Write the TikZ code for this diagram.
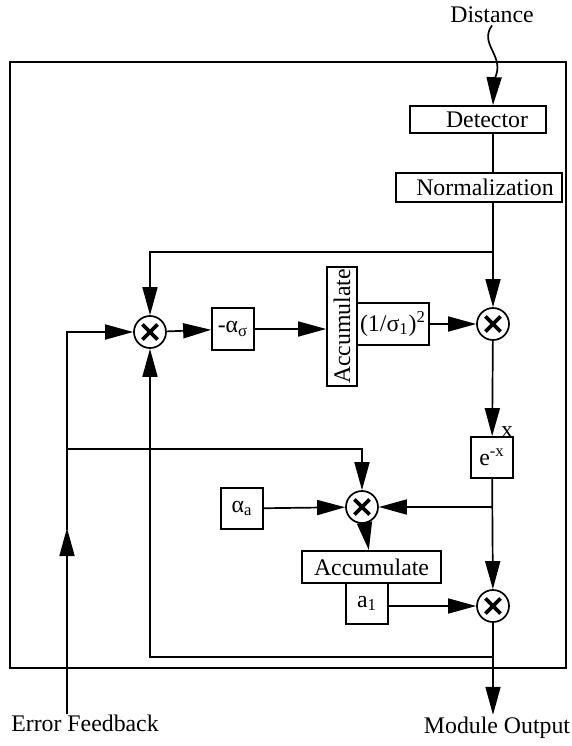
\documentclass[tikz,border=0pt]{standalone}
\usepackage{fontspec}
\setmainfont{Liberation Serif}
\usetikzlibrary{arrows.meta,positioning}

\begin{document}
\begin{tikzpicture}[x=0.5pt,y=-0.5pt,
  font=\fontsize{11.9}{13}\selectfont,
  blk/.style={draw,line width=0.85pt,inner sep=1pt,align=center},
  mult/.style={circle,draw,line width=0.85pt,minimum size=16pt,inner sep=0pt},
  flow/.style={-{Triangle[length=14pt,width=7.5pt]},line width=0.85pt},
  lbl/.style={inner sep=1pt}
]
\useasboundingbox (0,0) rectangle (572,746);
% module frame
\draw[line width=0.85pt] (10,62) rectangle (566,668);

% blocks
\node[lbl] (dist) at (492,15) {Distance};
\node[blk,minimum width=68pt,minimum height=13.5pt] (det) at (478,119.5) {\hspace{9pt}Detector};
\node[blk,line width=1.4pt,minimum width=83pt,minimum height=14.5pt] (norm) at (479,187.5) {\hspace{6pt}Normalization};
\node[mult] (m1) at (150,332) {};
\node[blk,minimum width=21pt,minimum height=21pt] (as) at (233,329) {-α\textsubscript{σ}};
\node[blk,minimum width=15pt,minimum height=59.5pt,inner sep=0pt] (accv) at (342,326.5) {\rotatebox{90}{Accumulate}};
\node[blk,minimum width=36pt,minimum height=21pt] (sig) at (393,324) {(1/σ\textsubscript{1})\textsuperscript{2}};
\node[mult] (m2) at (493,324) {};
\node[blk,minimum width=21pt,minimum height=20.5pt] (ex) at (492,457.5) {e\textsuperscript{-x}};
\node[lbl] (xin) at (507,432) {x};
\node[mult] (m3) at (362,507) {};
\node[blk,minimum width=21pt,minimum height=20.5pt] (aa) at (242,508.5) {α\textsubscript{a}};
\node[blk,minimum width=69.5pt,minimum height=16pt] (acch) at (371.5,567) {Accumulate};
\node[blk,minimum width=21pt,minimum height=20.5pt] (a1) at (367,603.5) {a\textsubscript{1}};
\node[mult] (m4) at (493,606) {};
\node[lbl] (err) at (85,723) {Error Feedback};
\node[lbl] (out) at (497,728) {Module Output};

% crosses in the multipliers
\foreach \m in {m1,m2,m3,m4}{
  \draw[line width=1.9pt] ([shift={(-3.8pt,-3.8pt)}]\m.center) -- ([shift={(3.8pt,3.8pt)}]\m.center);
  \draw[line width=1.9pt] ([shift={(-3.8pt,3.8pt)}]\m.center) -- ([shift={(3.8pt,-3.8pt)}]\m.center);
}

\coordinate (top) at (0,252);
\coordinate (bot) at (0,657);
\coordinate (fbs) at (67,714);
\coordinate (fbm) at (67,449);

% signal path
\draw[flow] (dist.south) .. controls (478,45) and (507,56) .. (494,80) -- (det.north -| m2);
\draw[line width=0.85pt] (det.south -| m2) -- (norm.north -| m2);
\draw[flow] (norm.south -| m2) -- (m2);
\draw[flow] (m2 |- top) -| (m1);
\draw[flow] (m1) -- (as);
\draw[flow] (as.east) -- (as.east -| accv.west);
\draw[flow] (sig) -- (m2);
\draw[flow] (m2) -- (ex);
\draw[flow] (ex) -- (m4);
\draw[flow] (m3 -| ex) -- (m3);
\draw[flow] (aa) -- (m3);
\draw[flow] (m3) -- (acch);
\draw[flow] (a1.east |- m4) -- (m4);
\draw[flow] (m4) -- (out.north -| m4);
\draw[flow] (m4 |- bot) -| (m1);

% error feedback
\draw[flow] (fbs) -- (67,528);
\draw[flow] (67,530) |- (m1);
\draw[flow] (fbm) -| (m3);
\end{tikzpicture}
\end{document}
